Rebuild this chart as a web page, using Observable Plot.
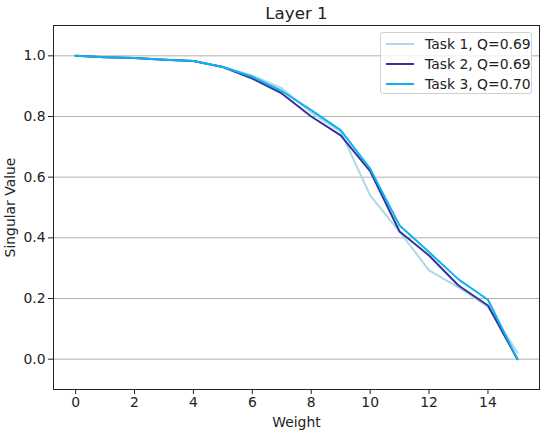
<!DOCTYPE html>
<html>
<head>
<meta charset="utf-8">
<script src="https://cdn.jsdelivr.net/npm/d3@7"></script>
<script src="https://cdn.jsdelivr.net/npm/@observablehq/plot@0.6"></script>
<style>
  html, body { margin: 0; padding: 0; background: #fff; }
  #wrap { position: relative; width: 540px; height: 432px; font-family: "DejaVu Sans", sans-serif; }
  #legend { position: absolute; left: 380px; top: 32px; width: 152px; height: 62px; border: 1px solid #d0d0d0; border-radius: 3px; background: rgba(255,255,255,0.8); box-sizing: border-box; }
  .row { position: absolute; left: 0; height: 20px; display: flex; align-items: center; font-size: 13.9px; color: #222; }
  .sw { width: 28px; height: 0; border-top: 2px solid; margin-left: 5px; margin-right: 11px; }
</style>
</head>
<body>
<div id="wrap"></div>
<script>
const weights = [0, 1, 2, 3, 4, 5, 6, 7, 8, 9, 10, 11, 12, 13, 14, 15];
const task1 = [1.0, 0.995, 0.993, 0.988, 0.983, 0.963, 0.935, 0.893, 0.813, 0.75, 0.54, 0.42, 0.293, 0.237, 0.172, 0.022];
const task2 = [1.0, 0.995, 0.993, 0.987, 0.983, 0.963, 0.925, 0.876, 0.80, 0.738, 0.62, 0.421, 0.342, 0.243, 0.177, 0.0];
const task3 = [1.0, 0.995, 0.993, 0.987, 0.983, 0.963, 0.931, 0.884, 0.821, 0.755, 0.628, 0.441, 0.353, 0.263, 0.196, 0.0];
const seriesNames = ["Task 1, Q=0.69", "Task 2, Q=0.69", "Task 3, Q=0.70"];
const seriesColors = ["#add8e6", "#33339a", "#0db2ee"];
const xTicks = [0, 2, 4, 6, 8, 10, 12, 14];
const yTicks = [0.0, 0.2, 0.4, 0.6, 0.8, 1.0];
const title = "Layer 1";

const allSeries = [task1, task2, task3];
const rows = [];
allSeries.forEach((vals, s) => {
  vals.forEach((v, i) => rows.push({ w: weights[i], v, task: seriesNames[s] }));
});

const fs = 13.9;
const chart = Plot.plot({
  width: 540,
  height: 432,
  marginTop: 25,
  marginLeft: 53,
  marginRight: 1,
  marginBottom: 43,
  style: { fontFamily: "DejaVu Sans, sans-serif", fontSize: fs + "px", color: "#222", background: "#fff" },
  x: { domain: [-0.75, 15.75] },
  y: { domain: [-0.1, 1.1] },
  color: { domain: seriesNames, range: seriesColors },
  marks: [
    Plot.gridY(yTicks, { stroke: "#b0b0b0", strokeOpacity: 1, strokeWidth: 1 }),
    Plot.line(rows, { x: "w", y: "v", z: "task", stroke: "task", strokeWidth: 2 }),
    Plot.frame({ stroke: "#222", strokeWidth: 1 }),
    Plot.axisX(xTicks, { tickSize: 5, tickPadding: 3, fontSize: fs, label: "Weight", labelAnchor: "center", labelArrow: "none", labelOffset: 37 }),
    Plot.axisY(yTicks, { tickSize: 5, tickPadding: 3, fontSize: fs, tickFormat: d3.format(".1f"), label: "Singular Value", labelAnchor: "center", labelArrow: "none", labelOffset: 48 }),
    Plot.text([title], { frameAnchor: "top", lineAnchor: "bottom", dy: -7, fontSize: 16.7 })
  ]
});
const wrap = document.getElementById("wrap");
wrap.appendChild(chart);

const legend = document.createElement("div");
legend.id = "legend";
seriesNames.forEach((name, i) => {
  const r = document.createElement("div");
  r.className = "row";
  r.style.top = (1 + i * 20) + "px";
  const sw = document.createElement("span");
  sw.className = "sw";
  sw.style.borderTopColor = seriesColors[i];
  const t = document.createElement("span");
  t.textContent = name;
  r.appendChild(sw);
  r.appendChild(t);
  legend.appendChild(r);
});
wrap.appendChild(legend);
</script>
</body>
</html>
